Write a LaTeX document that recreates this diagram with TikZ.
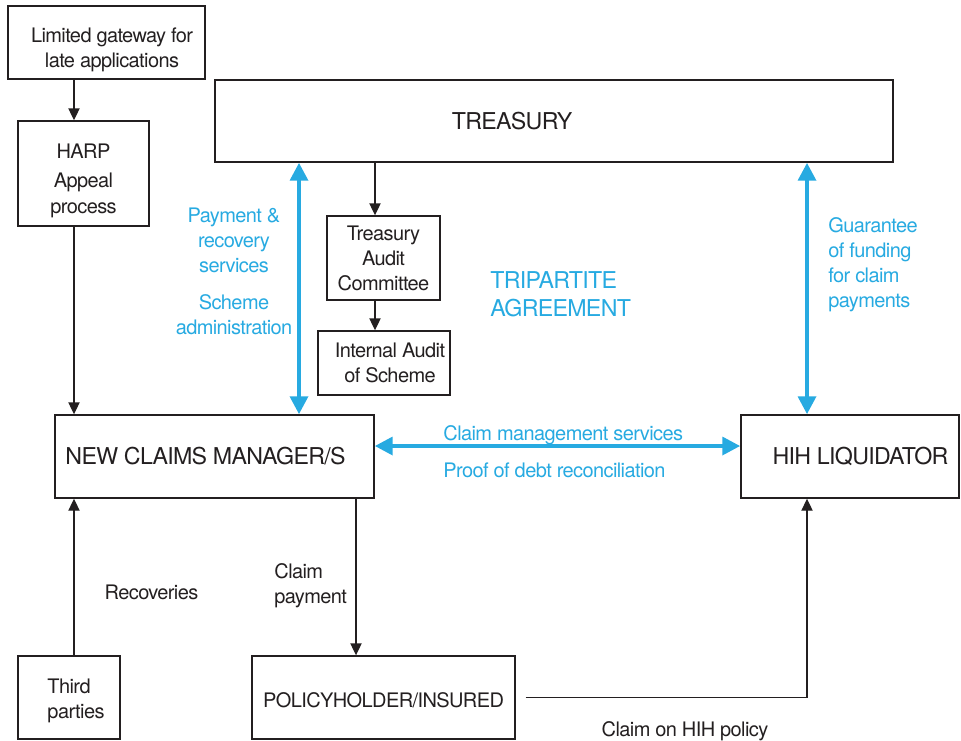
\documentclass[tikz,border=0pt]{standalone}
\usepackage{fontspec}
\setmainfont{TeX Gyre Heros}[LetterSpace=-3]
\usepackage{tikz}
\usetikzlibrary{arrows.meta,positioning,calc}
\definecolor{inkgray}{RGB}{35,31,32}
\definecolor{harpblue}{RGB}{39,170,225}

\begin{document}
\begin{tikzpicture}[x=0.5pt,y=-0.5pt,
    font=\fontsize{10}{12.5}\selectfont,
    box/.style={draw=inkgray, line width=0.7pt, inner sep=0pt, align=center, text=inkgray},
    inside/.style={inner sep=0pt, align=center, text=inkgray},
    big/.style={font=\fontsize{11.6}{14}\selectfont},
    txt/.style={inner sep=0pt, text=inkgray},
    btxt/.style={inner sep=0pt, text=harpblue, align=center},
    arr/.style={draw=inkgray, line width=0.7pt, -{Triangle[length=6pt,width=5.6pt]}},
    blu/.style={draw=harpblue, line width=2.2pt, {Triangle[length=9pt,width=8.8pt]}-{Triangle[length=9pt,width=8.8pt]}}]
  \useasboundingbox (0,0) rectangle (961,740);
  % boxes
  \node[box, minimum width=98.5pt, minimum height=36.5pt,
        label={[inside, xshift=2.75pt, yshift=-3.5pt]center:{Limited gateway for\\late applications}}] (gateway) at (106.5,42.5) {};
  \node[box, minimum width=65.5pt, minimum height=52.5pt,
        label={[inside, yshift=-3.5pt]center:{HARP\\[2pt]Appeal\\[0.5pt]process}}] (harp) at (83.5,173.5) {};
  \node[box, minimum width=339pt, minimum height=41pt,
        label={[inside, big, xshift=-21pt]center:TREASURY}] (treasury) at (554,121) {};
  \node[box, minimum width=56.5pt, minimum height=42pt] (tac) at (383.5,258)
    {Treasury\\Audit\\Committee};
  \node[box, minimum width=66pt, minimum height=32pt,
        label={[inside, xshift=3pt]center:{Internal Audit\\of Scheme}}] (ia) at (384,363) {};
  \node[box, minimum width=159.5pt, minimum height=41.5pt,
        label={[inside, big, xshift=-4.5pt]center:NEW CLAIMS MANAGER/S}] (ncm) at (214.5,456.5) {};
  \node[box, minimum width=109pt, minimum height=41.5pt,
        label={[inside, big, xshift=5.25pt]center:HIH LIQUIDATOR}] (hih) at (850,456.5) {};
  \node[box, minimum width=51pt, minimum height=41.5pt,
        label={[inside, align=left, xshift=3.5pt, yshift=-1.5pt]center:{Third\\parties}}] (third) at (69,697.5) {};
  \node[box, minimum width=131.5pt, minimum height=41.5pt,
        label={[inside, yshift=-1.5pt]center:POLICYHOLDER/INSURED}] (policy) at (383.5,697.5) {};

  % where the connectors run
  \coordinate (lx) at (74,0);
  \coordinate (ax) at (375,0);
  \coordinate (px) at (299,0);
  \coordinate (gx) at (807,0);
  \coordinate (cx) at (356,0);
  \coordinate (hy) at (0,446);

  \draw[arr] (gateway.south -| lx) -- (harp.north -| lx);
  \draw[arr] (harp.south -| lx) -- (ncm.north -| lx);
  \draw[arr] (third.north -| lx) -- (ncm.south -| lx);
  \draw[arr] (treasury.south -| ax) -- (tac.north -| ax);
  \draw[arr] (tac.south -| ax) -- (ia.north -| ax);
  \draw[arr] (ncm.south -| cx) -- (policy.north -| cx);
  \draw[arr] ([xshift=5pt]policy.east) -| (hih.south -| gx);

  \draw[blu] (treasury.south -| px) -- (ncm.north -| px);
  \draw[blu] (treasury.south -| gx) -- (hih.north -| gx);
  \draw[blu] (ncm.east |- hy) -- (hih.west |- hy);

  % labels
  \node[btxt] (paytxt) at (234,240) {Payment \&\\recovery\\services};
  \node[btxt] (schtxt) at (234,315) {Scheme\\administration};
  \node[btxt, align=left, anchor=west] (guartxt) at (828,265) {Guarantee\\of funding\\for claim\\payments};
  \node[btxt, big, align=left, anchor=west] (tritxt) at (490,294) {TRIPARTITE\\AGREEMENT};
  \node[btxt, anchor=west] (cmstxt) at (443,435) {Claim management services};
  \node[btxt, anchor=west] (podtxt) at (443,470) {Proof of debt reconciliation};
  \node[txt] (rectxt) at (151.5,592) {Recoveries};
  \node[txt, align=left, anchor=west] (cptxt) at (274,586) {Claim\\payment};
  \node[txt] (hihtxt) at (685,731) {Claim on HIH policy};
\end{tikzpicture}
\end{document}
